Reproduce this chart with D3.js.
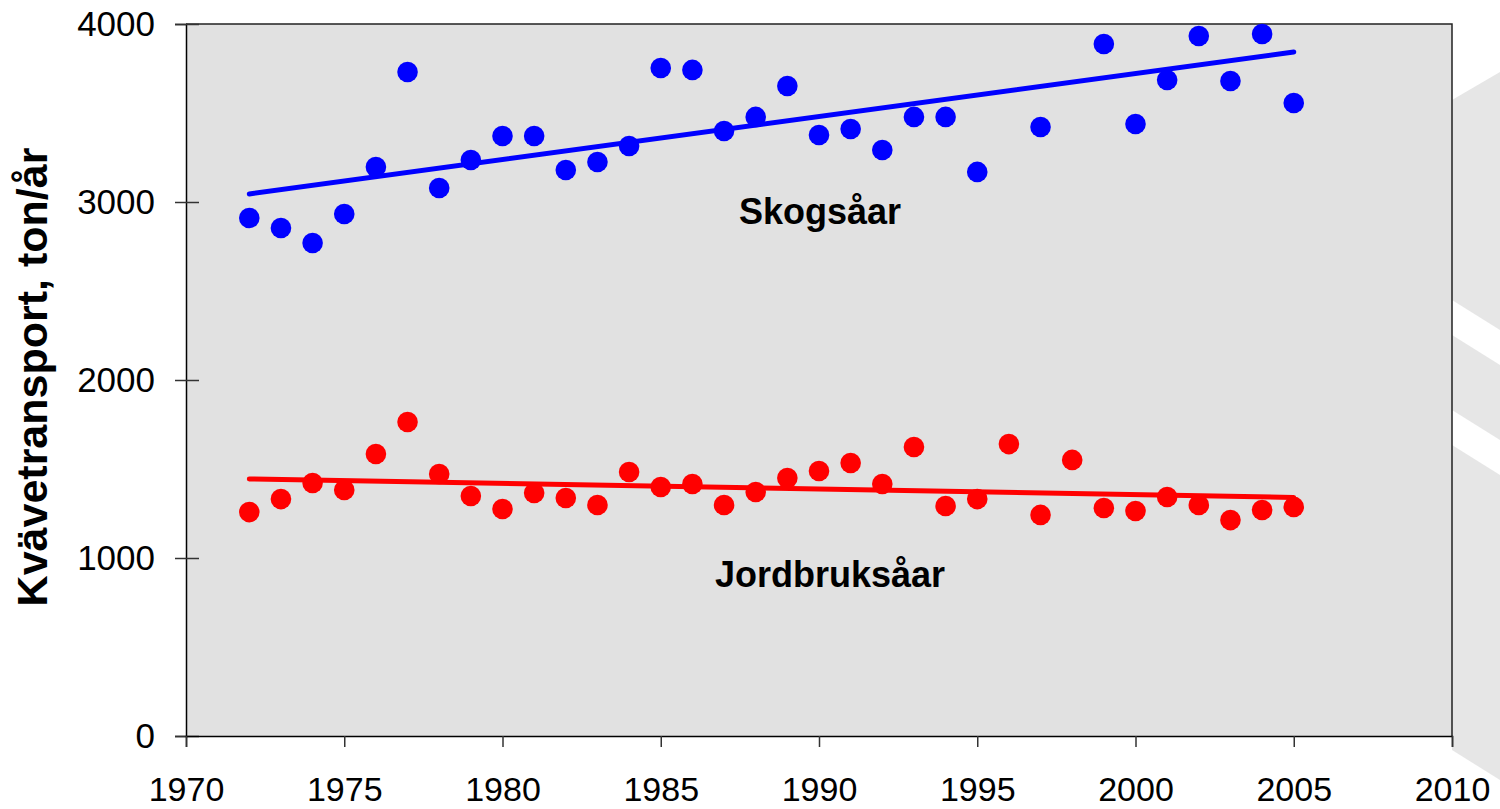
<!DOCTYPE html>
<html>
<head>
<meta charset="utf-8">
<script src="https://cdn.jsdelivr.net/npm/d3@7"></script>
<style>
  body { margin: 0; background: #fff; }
  svg { display: block; font-family: "Liberation Sans", Arial, sans-serif; }
</style>
</head>
<body>
<div id="chart"></div>
<script>
// years on the x axis
const years = d3.range(1972, 2006);

// Skogsåar (forest rivers) - null where no point is drawn
const skogValues = [
  2910, 2854, 2770, 2933, 3197, 3730, 3079, 3236, 3371, 3371,
  3180, 3225, 3315, 3753, 3742, 3399, 3478, 3652, 3376, 3410,
  3292, 3478, 3478, 3169, null, 3421, null, 3888, 3438, 3685,
  3933, 3680, 3944, 3556
];

// Jordbruksåar (agricultural rivers)
const jordValues = [
  1258, 1331, 1421, 1382, 1584, 1764, 1472, 1348, 1275, 1365,
  1337, 1298, 1483, 1399, 1416, 1298, 1371, 1449, 1489, 1534,
  1416, 1624, 1292, 1331, 1640, 1242, 1551, 1281, 1264, 1343,
  1298, 1213, 1270, 1287
];

// trend lines: [year, value]
const skogTrend = [[1972, 3045], [2005, 3843]];
const jordTrend = [[1972, 1444], [2005, 1340]];

const xTicks = [1970, 1975, 1980, 1985, 1990, 1995, 2000, 2005, 2010];
const yTicks = [0, 1000, 2000, 3000, 4000];

const width = 1500, height = 809;
const margin = { top: 24, right: 48, bottom: 73, left: 186 };

const svg = d3.select("#chart")
  .append("svg")
  .attr("width", width)
  .attr("height", height);

// decorative watermark at the right edge
const deco = svg.append("g");
deco.append("path")
  .attr("d", "M1452,100 L1500,72 L1500,809 L1452,809 Z")
  .attr("fill", "#e6e6e6");
deco.append("path")
  .attr("d", "M1452,300 L1500,330 L1500,365 L1452,335 Z")
  .attr("fill", "#fff");
deco.append("path")
  .attr("d", "M1452,410 L1500,440 L1500,475 L1452,445 Z")
  .attr("fill", "#fff");
deco.append("path")
  .attr("d", "M1452,750 L1500,780 L1500,809 L1452,809 Z")
  .attr("fill", "#fff");

const x = d3.scaleLinear().domain([1970, 2010]).range([margin.left, width - margin.right]);
const y = d3.scaleLinear().domain([0, 4000]).range([height - margin.bottom, margin.top]);

// plot area
svg.append("rect")
  .attr("x", x(1970))
  .attr("y", y(4000))
  .attr("width", x(2010) - x(1970))
  .attr("height", y(0) - y(4000))
  .attr("fill", "#e1e1e1");

// top and right border
svg.append("path")
  .attr("d", `M${x(1970)},${y(4000)}H${x(2010)}V${y(0)}`)
  .attr("fill", "none")
  .attr("stroke", "#222")
  .attr("stroke-width", 1.5);

// y axis, ticks crossing the axis line
const yAxis = svg.append("g")
  .attr("transform", `translate(${x(1970)},0)`)
  .call(d3.axisLeft(y).tickValues(yTicks).tickSize(11).tickPadding(20).tickFormat(d3.format("d")));
svg.append("g")
  .attr("transform", `translate(${x(1970)},0)`)
  .call(d3.axisRight(y).tickValues(yTicks).tickSize(13).tickFormat(""))
  .call(g => g.select(".domain").remove());

// x axis
const xAxis = svg.append("g")
  .attr("transform", `translate(0,${y(0)})`)
  .call(d3.axisBottom(x).tickValues(xTicks).tickSize(11).tickPadding(30).tickFormat(d3.format("d")));

svg.selectAll(".domain").attr("stroke", "#000").attr("stroke-width", 1.5);
svg.selectAll(".tick line").attr("stroke", "#333").attr("stroke-width", 1.5);
yAxis.selectAll("text").attr("font-size", 35).attr("fill", "#000")
  .attr("font-family", "Liberation Sans, Arial, sans-serif");
xAxis.selectAll("text").attr("font-size", 34).attr("fill", "#000")
  .attr("font-family", "Liberation Sans, Arial, sans-serif");

// y axis title
svg.append("text")
  .attr("transform", "translate(47,377) rotate(-90)")
  .attr("text-anchor", "middle")
  .attr("font-size", 43)
  .attr("font-weight", "bold")
  .text("Kvävetransport, ton/år");

const line = d3.line().x(d => x(d[0])).y(d => y(d[1]));

function drawSeries(values, trend, color) {
  const pts = years.map((yr, i) => [yr, values[i]]).filter(d => d[1] != null);
  svg.append("path")
    .datum(trend)
    .attr("d", line)
    .attr("fill", "none")
    .attr("stroke", color)
    .attr("stroke-width", 5)
    .attr("stroke-linecap", "round");
  svg.append("g")
    .selectAll("circle")
    .data(pts)
    .join("circle")
    .attr("cx", d => x(d[0]))
    .attr("cy", d => y(d[1]))
    .attr("r", 10.3)
    .attr("fill", color);
}

drawSeries(skogValues, skogTrend, "#0000ff");
drawSeries(jordValues, jordTrend, "#ff0000");

// series labels
svg.append("text")
  .attr("x", 820).attr("y", 224)
  .attr("text-anchor", "middle")
  .attr("font-size", 36)
  .attr("font-weight", "bold")
  .text("Skogsåar");

svg.append("text")
  .attr("x", 830).attr("y", 587)
  .attr("text-anchor", "middle")
  .attr("font-size", 36)
  .attr("font-weight", "bold")
  .text("Jordbruksåar");
</script>
</body>
</html>
